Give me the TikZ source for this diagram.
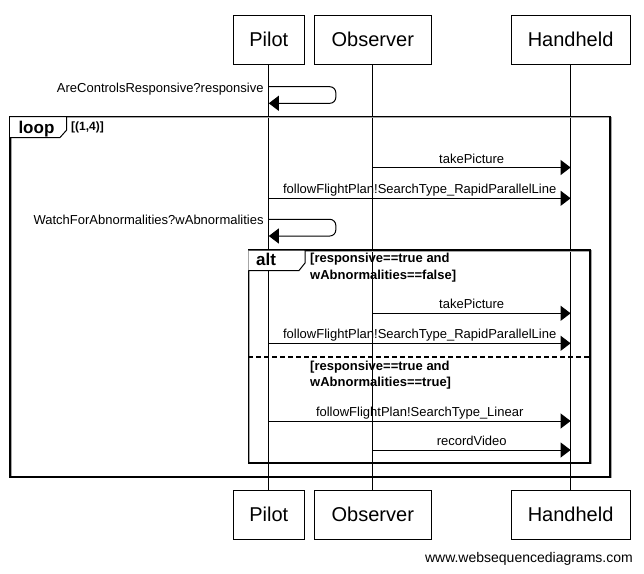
\documentclass[tikz,border=0pt]{standalone}
\usepackage{fontspec}
\setmainfont{Liberation Sans}
\usetikzlibrary{arrows.meta,calc}
\tikzset{
  participant/.style={draw, line width=1pt, minimum height=49pt, inner sep=0pt,
    font=\fontsize{20}{24}\selectfont},
  lifeline/.style={line width=1pt},
  msg/.style={line width=1pt, -{Triangle[length=10pt,width=15pt]}},
  selfmsg/.style={msg, rounded corners=6pt},
  msglabel/.style={anchor=base, inner sep=0pt, font=\fontsize{13}{16}\selectfont},
  selflabel/.style={anchor=base east, inner sep=0pt, font=\fontsize{13}{16}\selectfont},
  framebox/.style={line width=1.6pt},
  frameshadow/.style={line width=1.6pt, black!35},
  tabshape/.style={line width=1pt, fill=white},
  tablabel/.style={anchor=base west, inner sep=0pt, font=\bfseries\fontsize{17}{20}\selectfont},
  guard/.style={anchor=base west, inner sep=0pt, font=\bfseries\fontsize{13}{16}\selectfont},
}
\begin{document}
\begin{tikzpicture}[x=1pt,y=-1pt]
\useasboundingbox (0,0) rectangle (644,573);

% participants, top and bottom
\node[participant, minimum width=71.6pt] (pilotT) at (268.8,39.5) {Pilot};
\node[participant, minimum width=117pt]  (obsT)   at (372.8,39.5) {Observer};
\node[participant, minimum width=119pt]  (handT)  at (570.6,39.5) {Handheld};
\node[participant, minimum width=71.6pt] (pilotB) at (268.8,514.5) {Pilot};
\node[participant, minimum width=117pt]  (obsB)   at (372.8,514.5) {Observer};
\node[participant, minimum width=119pt]  (handB)  at (570.6,514.5) {Handheld};

% lifelines
\draw[lifeline] (pilotT) -- (pilotB);
\draw[lifeline] (obsT) -- (obsB);
\draw[lifeline] (handT) -- (handB);

% loop frame
\draw[frameshadow] (10.8,117.3) rectangle (610.8,477.5);
\draw[framebox] (10,116.5) rectangle (610,476.7);
\draw[tabshape] (10,116.5) -- (66.7,116.5) -- (66.7,130) -- (60,137.5) -- (10,137.5);
\node[tablabel] (looplbl) at (18.3,133) {loop};
\node[guard, font=\bfseries\fontsize{12}{14}\selectfont] (loopguard) at (71,130.5) {[(1,4)]};

% alt frame
\draw[frameshadow] (249.1,250.8) rectangle (590.8,463.5);
\draw[framebox] (248.3,250) rectangle (590,462.7);
\draw[framebox, dash pattern=on 5pt off 3pt] (248.3,356.7) -- (590,356.7);
\draw[tabshape] (248.3,250) -- (305,250) -- (305,263) -- (299,270.5) -- (248.3,270.5);
\node[tablabel] (altlbl) at (256,265) {alt};
\node[guard] (g1a) at (310,262.7) {[responsive==true and};
\node[guard] (g1b) at (310,279.3) {wAbnormalities==false]};
\node[guard] (g2a) at (310,370) {[responsive==true and};
\node[guard] (g2b) at (310,386) {wAbnormalities==true]};

% message end points on the lifelines
\coordinate (s1a) at (pilotT |- 0,86.7);
\coordinate (s1b) at (pilotT |- 0,103.3);
\coordinate (s2a) at (pilotT |- 0,219.3);
\coordinate (s2b) at (pilotT |- 0,236);
\coordinate (m1a) at (obsT |- 0,167.5);   \coordinate (m1b) at (handT |- 0,167.5);
\coordinate (m2a) at (pilotT |- 0,198.3); \coordinate (m2b) at (handT |- 0,198.3);
\coordinate (m3a) at (obsT |- 0,313.3);   \coordinate (m3b) at (handT |- 0,313.3);
\coordinate (m4a) at (pilotT |- 0,343.3); \coordinate (m4b) at (handT |- 0,343.3);
\coordinate (m5a) at (pilotT |- 0,421);   \coordinate (m5b) at (handT |- 0,421);
\coordinate (m6a) at (obsT |- 0,450);     \coordinate (m6b) at (handT |- 0,450);

% self messages
\draw[selfmsg] (s1a) -- ++(67,0) -- ([xshift=67pt]s1b) -- (s1b);
\node[selflabel] (s1lbl) at ([xshift=-5pt,yshift=-5.5pt]s1a) {AreControlsResponsive?responsive};
\draw[selfmsg] (s2a) -- ++(67,0) -- ([xshift=67pt]s2b) -- (s2b);
\node[selflabel] (s2lbl) at ([xshift=-5pt,yshift=-5.5pt]s2a) {WatchForAbnormalities?wAbnormalities};

% messages
\draw[msg] (m1a) -- (m1b);
\node[msglabel] (m1lbl) at ([yshift=4.5pt]$(m1a)!0.5!(m1b)$) {takePicture};
\draw[msg] (m2a) -- (m2b);
\node[msglabel] (m2lbl) at ([yshift=4.5pt]$(m2a)!0.5!(m2b)$) {followFlightPlan!SearchType\_RapidParallelLine};
\draw[msg] (m3a) -- (m3b);
\node[msglabel] (m3lbl) at ([yshift=4.5pt]$(m3a)!0.5!(m3b)$) {takePicture};
\draw[msg] (m4a) -- (m4b);
\node[msglabel] (m4lbl) at ([yshift=4.5pt]$(m4a)!0.5!(m4b)$) {followFlightPlan!SearchType\_RapidParallelLine};
\draw[msg] (m5a) -- (m5b);
\node[msglabel] (m5lbl) at ([yshift=4.5pt]$(m5a)!0.5!(m5b)$) {followFlightPlan!SearchType\_Linear};
\draw[msg] (m6a) -- (m6b);
\node[msglabel] (m6lbl) at ([yshift=4.5pt]$(m6a)!0.5!(m6b)$) {recordVideo};

% footer
\node[anchor=base east, inner sep=0pt, font=\fontsize{14}{16}\selectfont] (footer) at (633,562) {www.websequencediagrams.com};
\end{tikzpicture}
\end{document}
